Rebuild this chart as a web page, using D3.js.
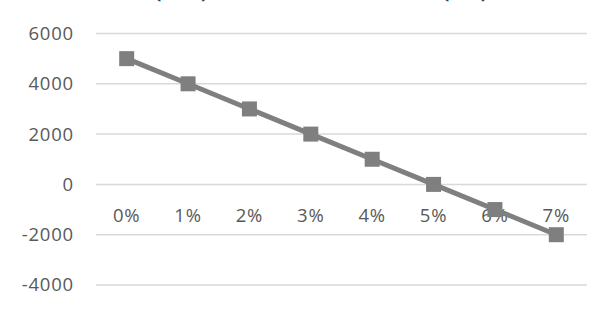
<!DOCTYPE html>
<html>
<head>
<meta charset="utf-8">
<script src="https://cdn.jsdelivr.net/npm/d3@7"></script>
<style>
  body { margin: 0; background: #fff; }
  text { font-family: "Open Sans", "Liberation Sans", sans-serif; fill: #595959; }
</style>
</head>
<body>
<script>
// data
const rates = ["0%", "1%", "2%", "3%", "4%", "5%", "6%", "7%"];
const npv = [5000, 4000, 3000, 2000, 1000, 0, -1000, -2000];
const yTicks = [6000, 4000, 2000, 0, -2000, -4000];
const titleLead = "Net Present Value ";
const titleMid = "(NPV) vs. Discount Rate ";
const titleEnd = "(IRR)";

// dimensions
var width = 612, height = 312;
var margin = {top: 33.5, right: 25, bottom: 27, left: 96};
var fontSize = "18.5px";

var svg = d3.select("body").append("svg")
    .attr("width", width)
    .attr("height", height);

var x = d3.scaleBand().domain(rates).range([margin.left, width - margin.right]);
var y = d3.scaleLinear().domain([-4000, 6000]).range([height - margin.bottom, margin.top]);

// title, cut off at the top edge like the reference: only the bottoms of the brackets show
var title = svg.append("text")
    .attr("y", -2.5)
    .style("font-size", "19px")
    .style("font-weight", "bold")
    .style("fill", "#404040");
var t1 = title.append("tspan").text(titleLead + titleMid);
title.append("tspan").attr("x", 443).text(titleEnd);
var probe = svg.append("text")
    .style("font-size", "19px")
    .style("font-weight", "bold")
    .text(titleLead.trim() + " ");
var leadW = probe.node().getComputedTextLength();
probe.remove();
t1.attr("x", 150 - leadW);

// gridlines
svg.append("g").selectAll("line")
    .data(yTicks)
    .enter().append("line")
    .attr("x1", margin.left)
    .attr("x2", width - margin.right)
    .attr("y1", d => y(d))
    .attr("y2", d => y(d))
    .attr("stroke", "#d9d9d9")
    .attr("stroke-width", 1.5);

// y axis labels
var yAxis = d3.axisLeft(y).tickValues(yTicks).tickSize(0).tickPadding(22)
    .tickFormat(d => String(d));
var gy = svg.append("g")
    .attr("transform", "translate(" + margin.left + ",0)")
    .call(yAxis);
gy.select(".domain").remove();
gy.selectAll("text").style("font-size", fontSize).style("letter-spacing", "0.8px").style("fill", "#595959");

// x axis labels sit just below the zero line
var xAxis = d3.axisBottom(x).tickSize(0).tickPadding(24);
var gx = svg.append("g")
    .attr("transform", "translate(0," + y(0) + ")")
    .call(xAxis);
gx.select(".domain").remove();
gx.selectAll("text").style("font-size", fontSize).style("letter-spacing", "0.8px").style("fill", "#595959");

var cx = d => x(d) + x.bandwidth() / 2;

// line
var line = d3.line()
    .x((d, i) => cx(rates[i]))
    .y(d => y(d));

svg.append("path")
    .datum(npv)
    .attr("fill", "none")
    .attr("stroke", "#7f7f7f")
    .attr("stroke-width", 5)
    .attr("d", line);

// square markers
svg.selectAll(".dot")
    .data(npv)
    .enter().append("rect")
    .attr("class", "dot")
    .attr("x", (d, i) => cx(rates[i]) - 7.5)
    .attr("y", d => y(d) - 7.5)
    .attr("width", 15)
    .attr("height", 15)
    .attr("fill", "#7f7f7f");
</script>
</body>
</html>
